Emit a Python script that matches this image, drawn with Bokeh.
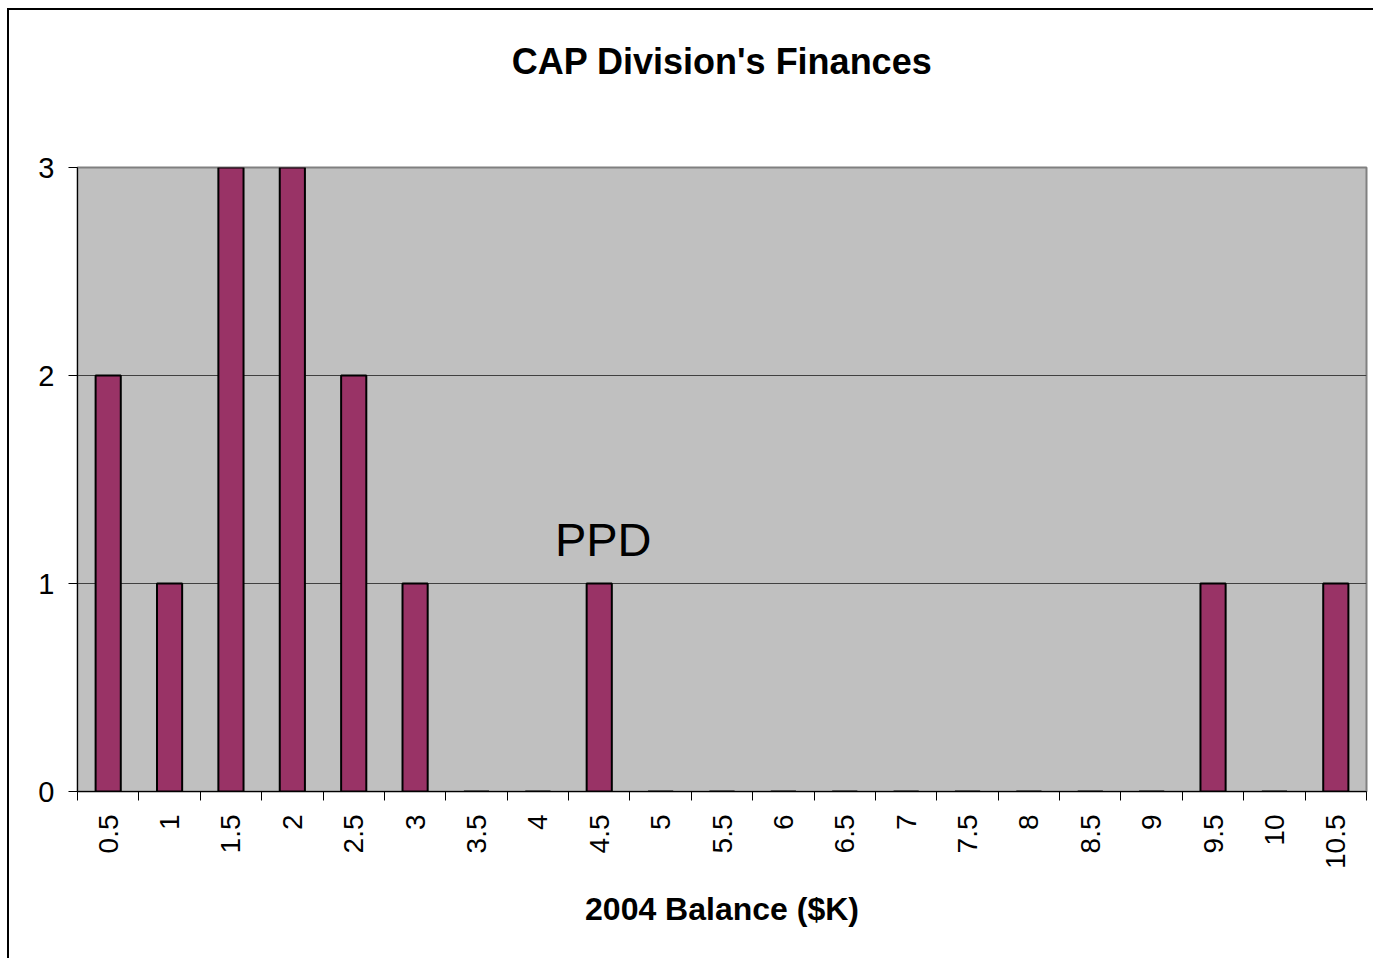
import math
from bokeh.plotting import figure
from bokeh.models import Range1d, FixedTicker, Label, LinearAxis
from bokeh.embed import file_html
from bokeh.resources import INLINE

# ---- data ----
categories = ["0.5", "1", "1.5", "2", "2.5", "3", "3.5", "4", "4.5", "5", "5.5",
              "6", "6.5", "7", "7.5", "8", "8.5", "9", "9.5", "10", "10.5"]
counts = [2, 1, 3, 3, 2, 1, 0, 0, 1, 0, 0, 0, 0, 0, 0, 0, 0, 0, 1, 0, 1]
y_ticks = [0, 1, 2, 3]
title_text = "CAP Division's Finances"
x_title = "2004 Balance ($K)"
annotation_text = "PPD"
annotation_category = "4.5"
annotation_y = 1.21

FONT = "Liberation Sans"

n = len(categories)
centers = [i + 0.5 for i in range(n)]
boundaries = list(range(n + 1))

p = figure(width=1366, height=950, output_backend="svg", toolbar_location=None,
           x_range=Range1d(0, n), y_range=Range1d(0, 3),
           min_border_left=68, min_border_right=9, min_border_top=157, min_border_bottom=169)
p.margin = (8, 0, 0, 7)

p.background_fill_color = "#C0C0C0"
p.border_fill_color = "white"
p.outline_line_color = "#808080"
p.outline_line_width = 2

# bars
p.vbar(x=centers, top=counts, width=0.41, bottom=0,
       fill_color="#993366", line_color="black", line_width=2)

# annotation
ai = categories.index(annotation_category)
p.add_layout(Label(x=centers[ai], y=annotation_y, x_offset=4, text=annotation_text,
                   text_font=FONT, text_font_size="47px", text_color="black",
                   text_align="center", text_baseline="alphabetic"))

# x axis
xa = p.below[0]
xa.ticker = FixedTicker(ticks=centers, minor_ticks=boundaries)
xa.major_label_overrides = {c: lab for c, lab in zip(centers, categories)}
xa.major_label_orientation = math.pi / 2
xa.major_tick_line_color = None
xa.major_tick_out = 9
xa.major_tick_in = 0
xa.minor_tick_out = 9
xa.minor_tick_in = 0
xa.minor_tick_line_color = "black"
xa.major_label_text_font = FONT
xa.major_label_text_font_size = "28px"
xa.major_label_text_color = "black"
xa.major_label_standoff = 14
xa.axis_line_color = "black"
xa.axis_label = x_title
xa.axis_label_text_font = FONT
xa.axis_label_text_font_style = "bold"
xa.axis_label_text_font_size = "32px"
xa.axis_label_text_color = "black"
xa.axis_label_standoff = 19

# y axis
ya = p.left[0]
ya.ticker = FixedTicker(ticks=y_ticks, minor_ticks=[])
ya.major_tick_out = 9
ya.major_tick_in = 0
ya.major_label_text_font = FONT
ya.major_label_text_font_size = "29px"
ya.major_label_text_color = "black"
ya.major_label_standoff = 14
ya.axis_line_color = "black"

p.xgrid.visible = False
p.ygrid.grid_line_color = "#404040"
p.ygrid.grid_line_width = 1

# chart title carried by a tick-less, line-less axis above the frame
top_axis = LinearAxis(ticker=FixedTicker(ticks=[], minor_ticks=[]),
                      major_tick_out=0, major_tick_in=0, minor_tick_out=0, minor_tick_in=0,
                      major_tick_line_color=None, minor_tick_line_color=None,
                      axis_line_color=None, major_label_standoff=0,
                      axis_label=title_text, axis_label_standoff=86,
                      axis_label_text_font=FONT, axis_label_text_font_style="bold",
                      axis_label_text_font_size="36px", axis_label_text_color="black")
p.add_layout(top_axis, "above")

p.styles = {"border-left": "2px solid black", "border-top": "2px solid black",
            "box-sizing": "border-box"}

open("out.html", "w").write(file_html(p, INLINE))
